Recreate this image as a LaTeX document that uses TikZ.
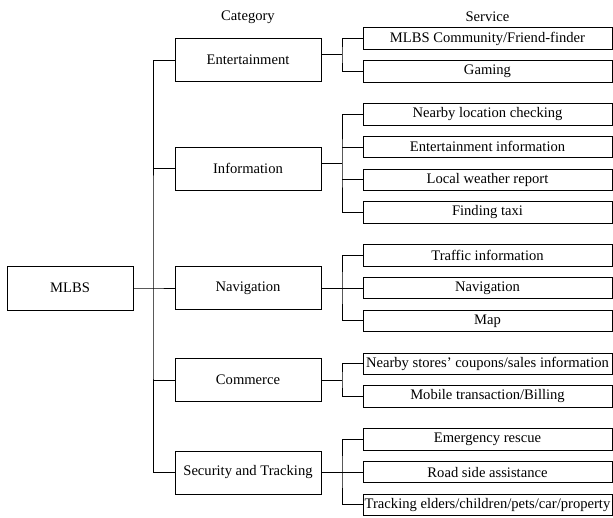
\documentclass[tikz,border=0pt]{standalone}
\usepackage{fontspec}
\setmainfont{Liberation Serif}
\usetikzlibrary{positioning,calc}

\begin{document}
\begin{tikzpicture}[x=1pt,y=-1pt,line width=0.8pt,
        every node/.style={font=\fontsize{14.6}{17}\selectfont},
        block/.style={draw,rectangle,outer sep=0pt,inner sep=1pt},
        cat/.style={block,minimum width=146pt,minimum height=43pt},
        serv/.style={block,minimum width=249pt,minimum height=21.5pt,node distance=11.25pt}]
   \useasboundingbox (0,0) rectangle (613,517);

   \node (H1) at (248,17) {Category};
   \node (H2) at (487.5,17) {Service};

   \node[block,minimum width=126pt,minimum height=44pt] (M) at (70,288) {MLBS};

   \node[cat] (C1) at (248,60) {Entertainment};
   \node[cat] (C2) at (248,168.5) {Information};
   \node[cat] (C3) at (248,288) {Navigation};
   \node[cat] (C4) at (248,380) {Commerce};
   \node[cat] (C5) at (248,472.5) {Security and Tracking};

   \node[serv] (S1) at (487.5,38.5) {MLBS Community/Friend-finder};
   \node[serv] (S2) [below=of S1] {Gaming};

   \node[serv] (S3) [below=21.4pt of S2] {Nearby location checking};
   \node[serv] (S4) [below=of S3] {Entertainment information};
   \node[serv] (S5) [below=of S4] {Local weather report};
   \node[serv] (S6) [below=of S5] {Finding taxi};

   \node[serv] (S7) [below=21.4pt of S6] {Traffic information};
   \node[serv] (S8) [below=of S7] {Navigation};
   \node[serv] (S9) [below=of S8] {Map};

   \node[serv] (S10) [below=21.4pt of S9] {Nearby stores' coupons/sales information};
   \node[serv] (S11) [below=of S10] {Mobile transaction/Billing};

   \node[serv] (S12) [below=21.4pt of S11] {Emergency rescue};
   \node[serv] (S13) [below=of S12] {Road side assistance};
   \node[serv] (S14) [below=of S13] {Tracking elders/children/pets/car/property};

   % trunk
   \coordinate (T) at (153,288);
   \draw (C1.west) -| (T) |- (C5.west);
   \draw (M.east) -- (T) -- (C3.west);
   \draw (T |- C2.west) -- (C2.west);
   \draw (T |- C4.west) -- (C4.west);

   % branches
   \coordinate (J1) at ($(S1.west)!0.5!(S2.west)+(-21,0)$);
   \coordinate (J2) at ($(S3.west)!0.5!(S6.west)+(-21,0)$);
   \coordinate (J3) at ($(S7.west)!0.5!(S9.west)+(-21,0)$);
   \coordinate (J4) at ($(S10.west)!0.5!(S11.west)+(-21,0)$);
   \coordinate (J5) at ($(S12.west)!0.5!(S14.west)+(-21,0)$);

   \draw (C1.east |- J1) -- (J1);
   \draw (S1.west) -| (J1) |- (S2.west);

   \draw (C2.east |- J2) -- (J2);
   \draw (S3.west) -| (J2) |- (S6.west);
   \draw (J2 |- S4.west) -- (S4.west);
   \draw (J2 |- S5.west) -- (S5.west);

   \draw (C3.east |- J3) -- (J3) -- (S8.west);
   \draw (S7.west) -| (J3) |- (S9.west);

   \draw (C4.east |- J4) -- (J4);
   \draw (S10.west) -| (J4) |- (S11.west);

   \draw (C5.east |- J5) -- (J5) -- (S13.west);
   \draw (S12.west) -| (J5) |- (S14.west);

\end{tikzpicture}
\end{document}
